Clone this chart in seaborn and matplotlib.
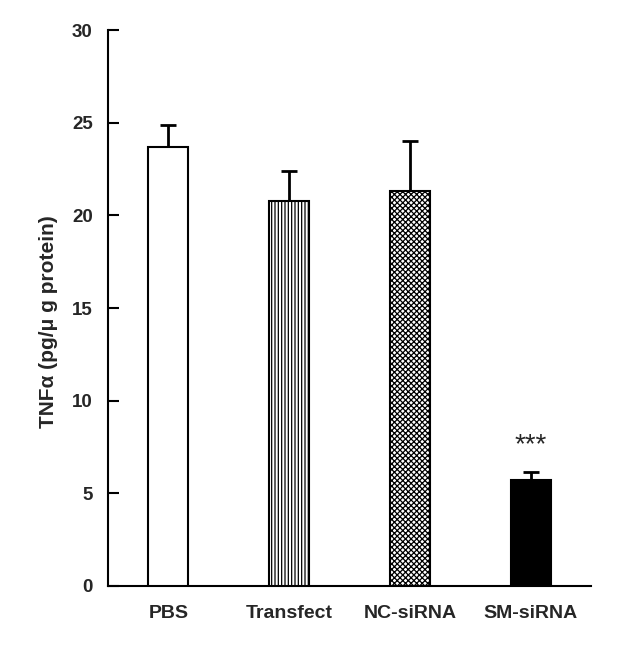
import matplotlib
matplotlib.use("Agg")
import matplotlib.pyplot as plt
import seaborn as sns
import numpy as np
import pandas as pd

categories = ["PBS", "Transfect", "NC-siRNA", "SM-siRNA"]
means = [23.7, 20.8, 21.3, 5.7]
errors = [1.2, 1.6, 2.7, 0.47]
y_ticks = [0, 5, 10, 15, 20, 25, 30]
annotation = "***"

sns.set_style("white")
plt.rcParams['font.family'] = ['Liberation Sans', 'DejaVu Sans']
plt.rcParams['hatch.linewidth'] = 0.9

df = pd.DataFrame({"group": categories, "value": means})

fig = plt.figure(figsize=(6.28, 6.57), dpi=100)
ax = fig.add_axes([108/628, 71/657, (591-108)/628, (586-30)/657])

sns.barplot(data=df, x="group", y="value", order=categories, ax=ax,
            width=0.33, errorbar=None, color="white", edgecolor="black",
            linewidth=1.5, zorder=3)

fills = ["white", "white", "white", "black"]
hatches = ["", "|||||", "xxxxxx", ""]
for patch, fc, h in zip(ax.patches, fills, hatches):
    patch.set_facecolor(fc)
    patch.set_hatch(h)
    patch.set_edgecolor("black")

x = np.arange(len(categories))
ax.errorbar(x, means, yerr=[np.zeros(len(errors)), errors], fmt="none",
            ecolor="black", elinewidth=2, capsize=6, capthick=2, zorder=2)

ax.text(x[3], 7.6, annotation, ha="center", va="center",
        fontsize=20)

ax.set_xlim(-0.5, 3.5)
ax.set_ylim(0, 30)
ax.set_yticks(y_ticks)
ax.set_yticklabels([str(t) for t in y_ticks], fontsize=13.5, fontweight="bold")
ax.set_xticks(x)
ax.set_xticklabels(categories, fontsize=14, fontweight="bold")
ax.set_xticks(np.arange(-0.5, 4.0, 1.0), minor=True)
ax.tick_params(axis="x", which="major", length=0, pad=14)
ax.tick_params(axis="x", which="minor", length=6, width=1.5, direction="out", color="black")
ax.tick_params(axis="y", which="major", length=8, width=1.5, direction="in", pad=11, color="black", left=True)
ax.set_xlabel("")
ax.set_ylabel("TNFα (pg/μ g protein)", fontsize=15, fontweight="bold")
ax.yaxis.set_label_coords(-50/483, (586-322)/556)
ax.yaxis.label.set_horizontalalignment("center")

for side in ["top", "right"]:
    ax.spines[side].set_visible(False)
for side in ["left", "bottom"]:
    ax.spines[side].set_linewidth(1.5)
    ax.spines[side].set_color("black")

fig.savefig("out.png", dpi=100)
